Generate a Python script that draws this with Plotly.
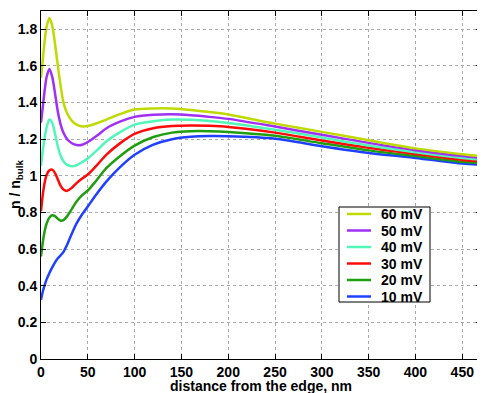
import plotly.graph_objects as go

# distance from the edge (nm) where the curves were read
distance = [0, 2, 4, 6, 9, 12, 15, 18, 21, 24, 28, 33, 38, 44, 50, 60, 70, 85, 100,
            120, 140, 160, 180, 200, 250, 300, 350, 400, 450, 470]

# normalised concentration n / n_bulk for each surface potential
n_10mV = [0.323, 0.37, 0.405, 0.435, 0.47, 0.5, 0.528, 0.55, 0.566, 0.585, 0.625, 0.685, 0.74, 0.79,
          0.833, 0.905, 0.97, 1.05, 1.115, 1.17, 1.2, 1.213, 1.217, 1.216, 1.203, 1.162, 1.125,
          1.098, 1.067, 1.061]
n_20mV = [0.56, 0.64, 0.7, 0.74, 0.772, 0.785, 0.78, 0.765, 0.755, 0.758, 0.78, 0.82, 0.86, 0.895,
          0.92, 0.98, 1.043, 1.11, 1.165, 1.212, 1.236, 1.244, 1.244, 1.24, 1.219, 1.178, 1.139,
          1.108, 1.077, 1.07]
n_30mV = [0.806, 0.9, 0.965, 1.005, 1.03, 1.034, 1.015, 0.98, 0.945, 0.925, 0.918, 0.935, 0.96, 0.985,
          1.007, 1.06, 1.116, 1.18, 1.229, 1.26, 1.272, 1.275, 1.273, 1.267, 1.236, 1.193, 1.153,
          1.119, 1.087, 1.079]
n_40mV = [1.055, 1.14, 1.21, 1.265, 1.308, 1.29, 1.23, 1.16, 1.11, 1.08, 1.06, 1.053, 1.058, 1.075,
          1.095, 1.14, 1.189, 1.24, 1.28, 1.298, 1.307, 1.306, 1.3, 1.289, 1.252, 1.209, 1.166,
          1.129, 1.098, 1.089]
n_50mV = [1.29, 1.38, 1.47, 1.54, 1.583, 1.54, 1.45, 1.35, 1.28, 1.235, 1.2, 1.178, 1.168, 1.17,
          1.185, 1.22, 1.26, 1.297, 1.322, 1.333, 1.336, 1.331, 1.322, 1.311, 1.269, 1.224, 1.18,
          1.14, 1.108, 1.098]
n_60mV = [1.535, 1.64, 1.74, 1.815, 1.862, 1.82, 1.72, 1.6, 1.49, 1.4, 1.34, 1.3, 1.28, 1.27,
          1.272, 1.288, 1.307, 1.338, 1.362, 1.368, 1.368, 1.36, 1.348, 1.335, 1.285, 1.24, 1.194,
          1.15, 1.118, 1.107]

labels = ['10 mV', '20 mV', '30 mV', '40 mV', '50 mV', '60 mV']
series = [n_10mV, n_20mV, n_30mV, n_40mV, n_50mV, n_60mV]
colors = ['#2040FF', '#1F9E10', '#FF0A0A', '#50F7B8', '#A030F5', '#BEDA00']

fig = go.Figure()
for name, vals, col in zip(labels, series, colors):
    fig.add_trace(go.Scatter(x=distance, y=vals, name=name, mode='lines', showlegend=False,
                             line=dict(color=col, width=2.5, shape='spline', smoothing=0.8)))

font = dict(family='Liberation Sans, Arial, sans-serif', size=14, color='black', weight='bold')

axis_style = dict(showline=True, linecolor='black', linewidth=1, mirror='ticks',
                  ticks='inside', ticklen=5, tickcolor='black',
                  showgrid=True, gridcolor='#aaaaaa', griddash='dot', gridwidth=1,
                  zeroline=False, tickfont=font, automargin=False)

# the page body has an 8px margin, so the figure is 8px smaller than the window
OFF = 8
W, H = 485 - OFF, 393 - OFF
# plot area in window pixels: left 41, right 481, top 11, bottom 359
L, R, T, B = 41, 481, 11, 359
def px(x, y):
    return (x - L) / (R - L), (B - y) / (B - T)

# legend drawn as a box with line samples, MATLAB style (60 mV at top)
x0, y0 = px(339, 207)
x1, y1 = px(430, 302)
fig.add_shape(type='rect', xref='paper', yref='paper', x0=x0, y0=y1, x1=x1, y1=y0,
              line=dict(color='black', width=1), fillcolor='white', layer='above')
for i, (name, col) in enumerate(zip(labels[::-1], colors[::-1])):
    yy = 214 + i * 16.5
    a, ya = px(347, yy)
    b, _ = px(371, yy)
    fig.add_shape(type='line', xref='paper', yref='paper', x0=a, x1=b, y0=ya, y1=ya,
                  line=dict(color=col, width=2.5), layer='above')
    tx, _ = px(379, yy)
    fig.add_annotation(xref='paper', yref='paper', x=tx, y=ya, text=name, showarrow=False,
                       xanchor='left', yanchor='middle', font=font)

# axis titles placed as annotations
tx, ty = px(261, 386)
fig.add_annotation(xref='paper', yref='paper', x=tx, y=ty, text='distance from the edge, nm',
                   showarrow=False, xanchor='center', yanchor='middle', font=font)
tx, ty = px(16, 185)
fig.add_annotation(xref='paper', yref='paper', x=tx, y=ty, text='n / n<sub>bulk</sub>',
                   showarrow=False, xanchor='center', yanchor='middle', textangle=-90, font=font)

fig.update_layout(
    width=W, height=H,
    margin=dict(l=L - OFF, r=485 - R, t=T - OFF, b=393 - B),
    plot_bgcolor='white', paper_bgcolor='white',
    font=font,
    showlegend=False,
)
fig.update_xaxes(range=[0, 470], dtick=50, tick0=0, **axis_style)
fig.update_yaxes(range=[0, 1.9], dtick=0.2, tick0=0, **axis_style)

fig.write_html("out.html")
